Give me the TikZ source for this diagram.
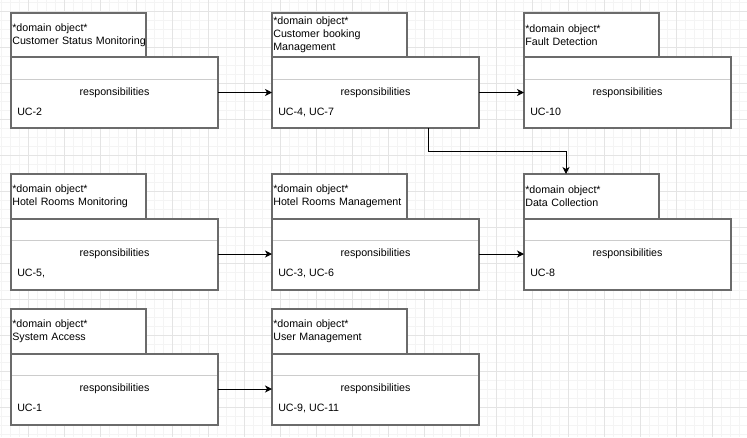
\documentclass[tikz,border=0pt]{standalone}
\usepackage{fontspec}
\setmainfont{Liberation Sans}
\usetikzlibrary{arrows.meta}
\definecolor{boxline}{HTML}{6B6B6B}
\definecolor{sepline}{HTML}{CCCCCC}
\definecolor{gridminor}{HTML}{F4F4F4}
\definecolor{gridmajor}{HTML}{E4E4E4}
\begin{document}
\begin{tikzpicture}[x=0.75pt, y=-0.75pt,
    font=\fontsize{8}{9.75}\selectfont,
    hdr/.style={draw=boxline, line width=1.5pt, fill=white, anchor=north west, outer sep=0pt,
        minimum height=33.375pt, text width=99.25pt, inner xsep=1pt, inner ysep=0pt, align=left},
    objbody/.style={draw=boxline, line width=1.5pt, fill=white, anchor=north west, outer sep=0pt,
        minimum width=155.25pt, minimum height=53.25pt, inner sep=0pt},
    conn/.style={draw=black, line width=0.75pt,
        -{Stealth[length=5.25pt, width=5.25pt, inset=1.5pt]}}]
    \useasboundingbox (0,0) rectangle (747,437);
    \fill[white] (0,0) rectangle (747,437);
    % background grid
    \foreach \g in {1,10,...,746} \draw[gridminor, line width=0.75pt] (\g,0) -- (\g,437);
    \foreach \g in {2.7,11.7,...,437} \draw[gridminor, line width=0.75pt] (0,\g) -- (747,\g);
    \foreach \g in {28,64,...,747} \draw[gridmajor, line width=0.75pt] (\g,0) -- (\g,437);
    \foreach \g in {11.7,47.7,...,437} \draw[gridmajor, line width=0.75pt] (0,\g) -- (747,\g);
    % domain objects
    \foreach \nm/\px/\py/\ttl/\uc in {
        csm/11/12.5/{\mbox{Customer Status Monitoring}}/UC-2,
        cbm/272/12.5/{Customer booking\\Management}/{UC-4, UC-7},
        fd/524/12.5/{Fault Detection}/UC-10,
        hrmon/11/174/{Hotel Rooms Monitoring}/{UC-5,},
        hrm/272/174/{Hotel Rooms Management}/{UC-3, UC-6},
        dc/524/174/{Data Collection}/UC-8,
        sa/11/309/{System Access}/UC-1,
        um/272/309/{User Management}/{UC-9, UC-11}}{
        \node[hdr] (h\nm) at (\px,\py) {*domain object*\\\ttl};
        \node[objbody] (b\nm) at (h\nm.south west) {};
        \draw[sepline, line width=0.75pt] ([shift={(0.75pt,-16.5pt)}]b\nm.north west)
            -- ([shift={(-0.75pt,-16.5pt)}]b\nm.north east);
        \node[anchor=base] (r\nm) at ([yshift=-28.5pt]b\nm.north) {responsibilities};
        \node[anchor=base west, inner sep=0pt] (u\nm) at ([shift={(4.5pt,-43.5pt)}]b\nm.north west) {\uc};
    }
    % connectors
    \draw[conn] (bcsm) -- (bcbm);
    \draw[conn] (bcbm) -- (bfd);
    \draw[conn] (bhrmon) -- (bhrm);
    \draw[conn] (bhrm) -- (bdc);
    \draw[conn] (bsa) -- (bum);
    \coordinate (elbowa) at (428,151);
    \coordinate (elbowb) at (566,151);
    \draw[conn] (bcbm.south -| elbowa) -- (elbowa) -- (elbowb) -- (elbowb |- hdc.north);
\end{tikzpicture}
\end{document}
